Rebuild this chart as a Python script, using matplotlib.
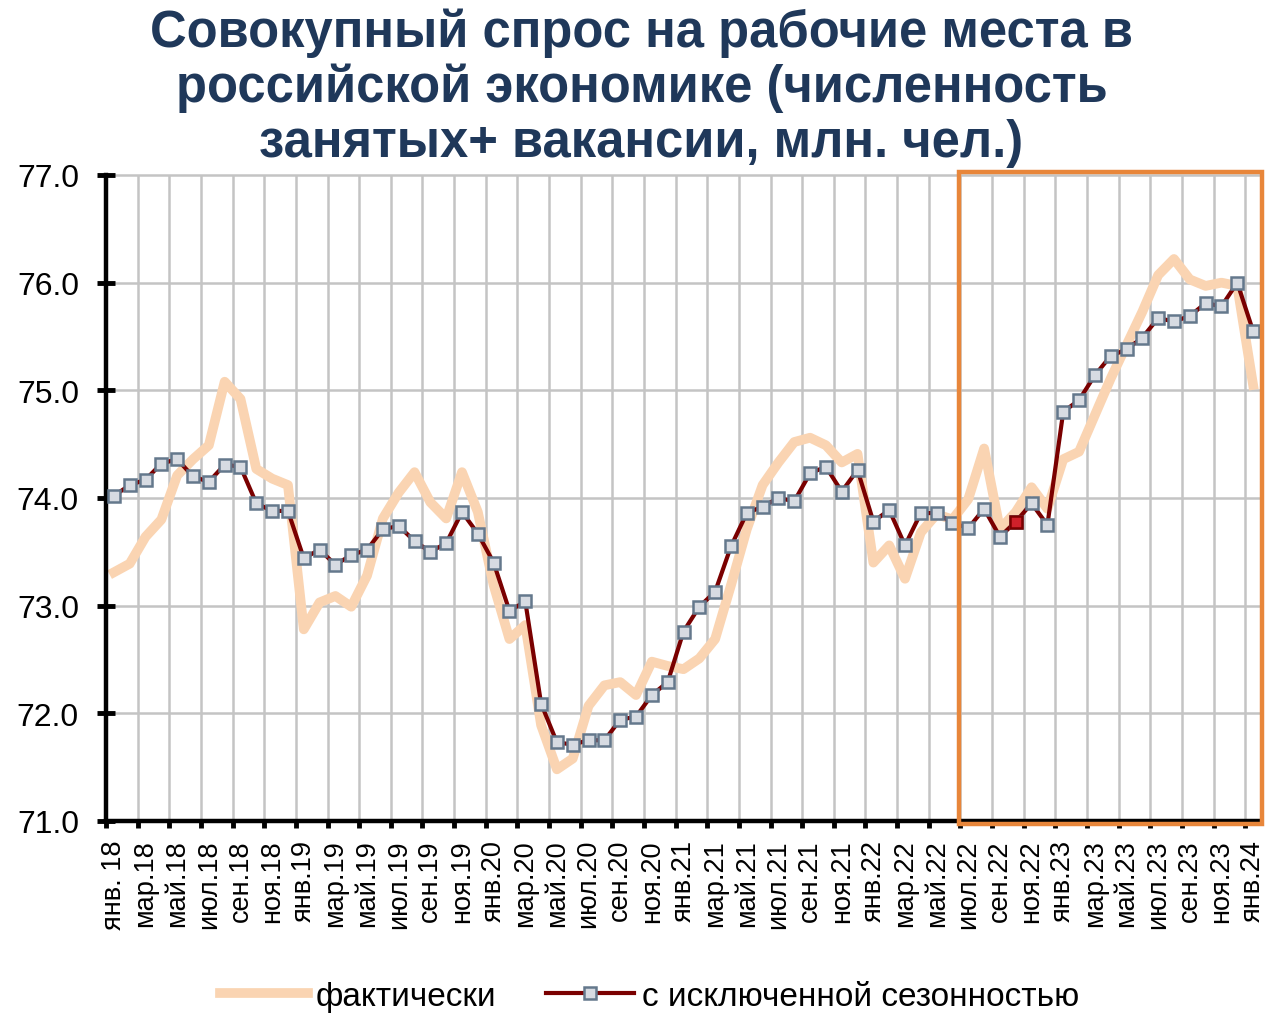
import matplotlib.pyplot as plt
from matplotlib.patches import Rectangle
from matplotlib.lines import Line2D

plt.rcParams['font.family'] = ['Liberation Sans', 'DejaVu Sans']

title_color = (31/255, 56/255, 90/255)
actual_color = (250/255, 212/255, 178/255)
sa_color = (122/255, 0/255, 0/255)
marker_edge = (100/255, 120/255, 140/255)
marker_face = (215/255, 219/255, 226/255)
box_color = (232/255, 134/255, 58/255)

months = ['янв.', 'мар.', 'май.', 'июл.', 'сен.', 'ноя.']
years = ['18', '19', '20', '21', '22', '23']

# янв.18 ... янв.24, monthly
actual = [73.31, 73.39, 73.64, 73.80, 74.21, 74.36, 74.49, 75.08, 74.92, 74.27, 74.18, 74.12,
          72.78, 73.03, 73.09, 72.99, 73.28, 73.81, 74.05, 74.24, 73.96, 73.81, 74.24, 73.87,
          73.19, 72.69, 72.82, 71.89, 71.48, 71.58, 72.07, 72.26, 72.29, 72.17, 72.48, 72.44,
          72.41, 72.51, 72.69, 73.19, 73.71, 74.12, 74.33, 74.52, 74.56, 74.49, 74.33, 74.41,
          73.40, 73.56, 73.25, 73.68, 73.85, 73.80, 73.99, 74.46, 73.71, 73.87, 74.10, 73.90,
          74.36, 74.43, 74.77, 75.11, 75.42, 75.73, 76.07, 76.22, 76.03, 75.97, 76.00, 75.97,
          75.05]
seasonal = [74.02, 74.12, 74.17, 74.32, 74.36, 74.20, 74.15, 74.31, 74.29, 73.95, 73.88, 73.88,
            73.44, 73.52, 73.38, 73.47, 73.52, 73.71, 73.74, 73.60, 73.50, 73.58, 73.87, 73.67,
            73.40, 72.95, 73.04, 72.09, 71.73, 71.71, 71.75, 71.75, 71.94, 71.97, 72.17, 72.29,
            72.76, 72.99, 73.13, 73.55, 73.86, 73.92, 74.00, 73.97, 74.23, 74.29, 74.06, 74.26,
            73.78, 73.89, 73.56, 73.86, 73.86, 73.77, 73.72, 73.90, 73.64, 73.78, 73.95, 73.75,
            74.80, 74.91, 75.14, 75.32, 75.38, 75.49, 75.67, 75.64, 75.69, 75.81, 75.78, 76.00,
            75.55]
highlight_idx = 57  # ноя.22 marker drawn in red

tick_labels = [m + y for y in years for m in months] + ['янв.24']
tick_labels[0] = 'янв. 18'

x = list(range(len(actual)))

fig = plt.figure(figsize=(12.78, 10.2), dpi=100)
ax = fig.add_axes([106/1278, 198/1020, 1155/1278, 646/1020])

ax.plot(x, actual, color=actual_color, lw=7, solid_joinstyle='round', zorder=2)
ax.plot(x, seasonal, color=sa_color, lw=3, marker='s', markersize=9,
        markeredgewidth=1.8, markeredgecolor=marker_edge, markerfacecolor=marker_face, zorder=3)
ax.plot([x[highlight_idx]], [seasonal[highlight_idx]], 's', markersize=9,
        markeredgewidth=1.8, markeredgecolor=sa_color, markerfacecolor='#d0202a', zorder=4)

ax.set_xlim(-0.5, len(x) - 0.5)
ax.set_ylim(71, 77)
ax.set_yticks(range(71, 78))
ax.set_yticklabels([f'{v:.1f}' for v in range(71, 78)], fontsize=23)

ax.set_xticks(range(0, len(x), 2))
ax.set_xticklabels(tick_labels, rotation=90, fontsize=19.5)
ax.set_xticks([i - 0.5 for i in range(0, len(x), 2)], minor=True)
ax.tick_params(axis='x', which='major', length=0, pad=13)
ax.tick_params(axis='x', which='minor', length=5, width=3.5, color='black', direction='out')
ax.tick_params(axis='y', length=13, width=3.5, direction='inout', pad=13)

ax.grid(axis='x', which='minor', color='#c4c4c4', lw=1.8)
ax.grid(axis='y', which='major', color='#c4c4c4', lw=1.8)
ax.set_axisbelow(True)
for gl in ax.get_ygridlines():
    gl.set_clip_on(False)

for s in ['top', 'right']:
    ax.spines[s].set_visible(False)
for s in ['left', 'bottom']:
    ax.spines[s].set_linewidth(3.2)
    ax.spines[s].set_color('black')

box = Rectangle((53.4, 70.97), 19.15, 6.06, fill=False, edgecolor=box_color, lw=3.2,
                clip_on=False, zorder=5)
ax.add_patch(box)

fig.text(0.502, 0.9137, 'Совокупный спрос на рабочие места в\nроссийской экономике (численность\nзанятых+ вакансии, млн. чел.)',
         ha='center', va='center', fontsize=36.5, fontweight='bold', color=title_color, linespacing=1.15)

handles = [Line2D([], [], color=actual_color, lw=7),
           Line2D([], [], color=sa_color, lw=3, marker='s', markersize=9, markeredgewidth=1.8,
                  markeredgecolor=marker_edge, markerfacecolor=marker_face)]
fig.legend(handles, ['фактически', 'с исключенной сезонностью'], loc='center',
           bbox_to_anchor=(0.508, 0.022), ncol=2, frameon=False, fontsize=24,
           handlelength=2.65, handletextpad=0.22, columnspacing=1.5)

fig.savefig('out.png', dpi=100)
